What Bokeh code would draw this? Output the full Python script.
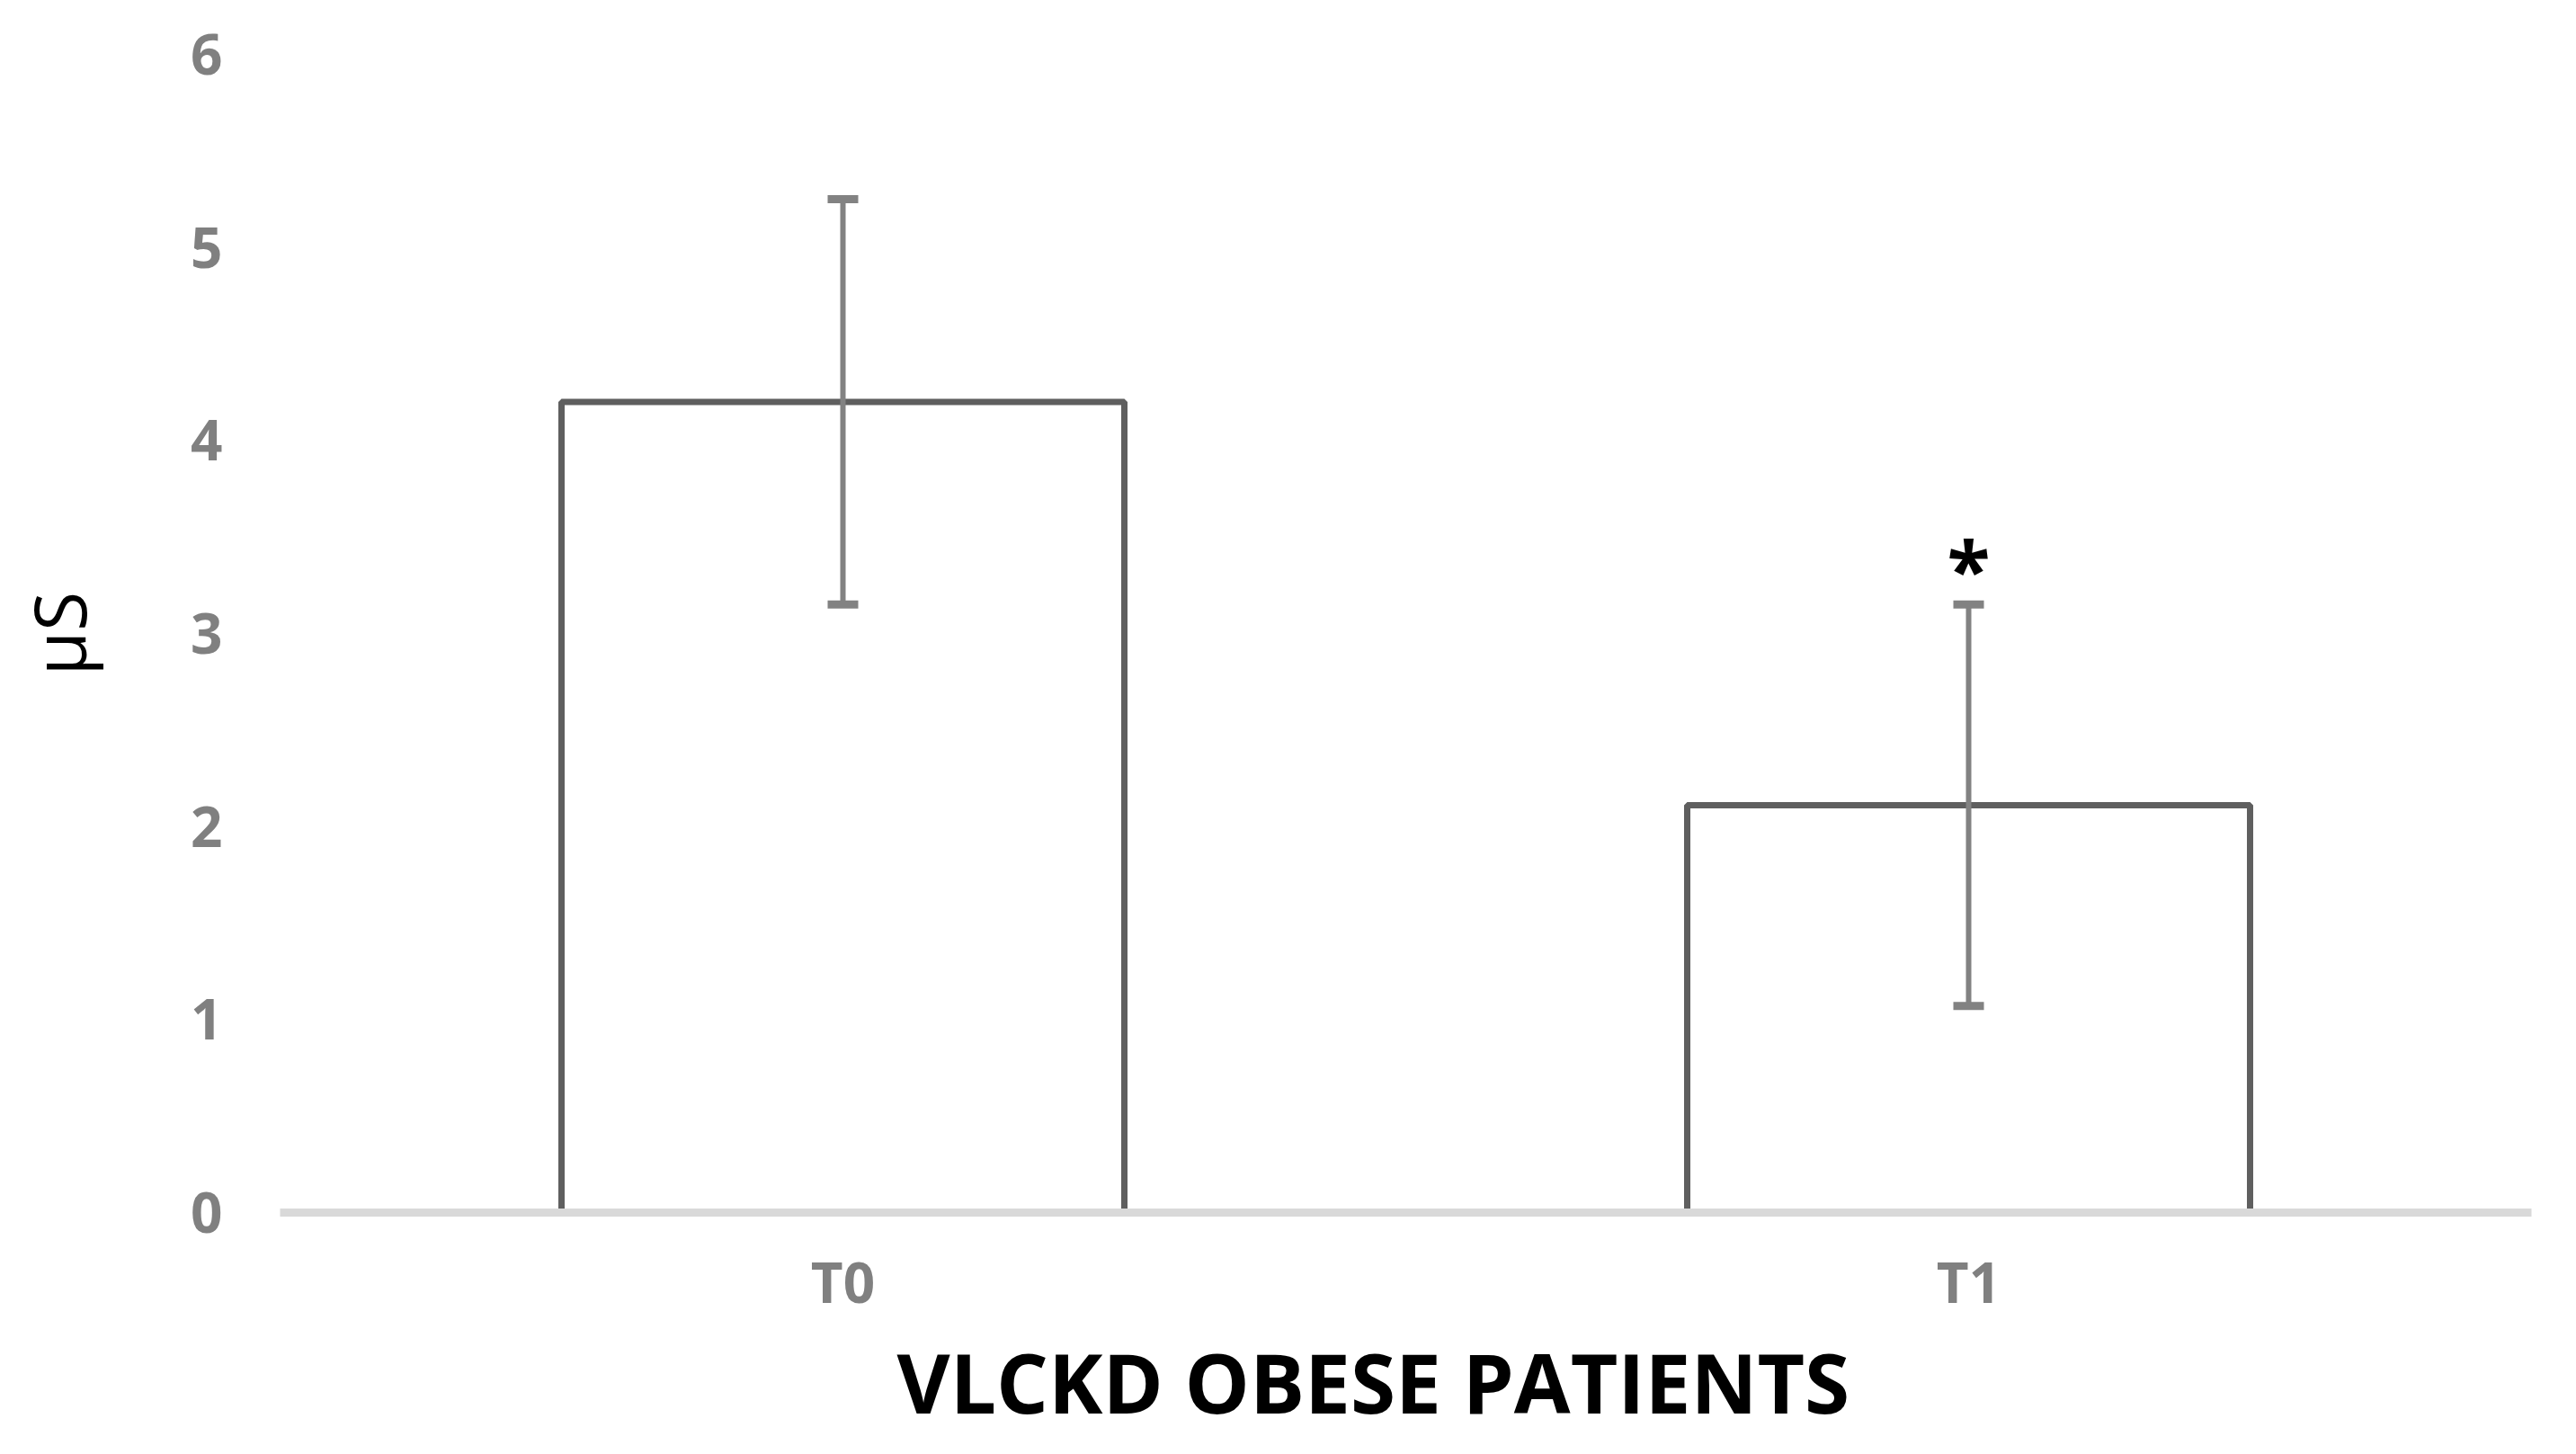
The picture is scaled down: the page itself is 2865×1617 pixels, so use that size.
from bokeh.plotting import figure
from bokeh.models import ColumnDataSource, Range1d, Whisker, TeeHead, FactorRange, FixedTicker, Title
from bokeh.core.properties import value
from bokeh.embed import file_html
from bokeh.resources import INLINE

categories = ["T0", "T1"]
means = [4.20, 2.11]
sds = [1.05, 1.04]
sig_marks = ["", "*"]
y_ticks = [0, 1, 2, 3, 4, 5, 6]
x_title = "VLCKD OBESE PATIENTS"
y_title = "µS"

upper = [m + s for m, s in zip(means, sds)]
lower = [m - s for m, s in zip(means, sds)]

src = ColumnDataSource(dict(cat=categories, mean=means, upper=upper, lower=lower, sig=sig_marks))

FONT = "Open Sans"
W, H = 2849, 1601

p = figure(width=W, height=H, x_range=FactorRange(*categories), y_range=Range1d(0, 6),
           output_backend="svg", toolbar_location=None,
           min_border_left=311, min_border_right=34, min_border_top=60, min_border_bottom=252)
p.background_fill_color = "white"
p.border_fill_color = "white"
p.outline_line_color = None
p.grid.visible = False
p.x_range.range_padding = 0

p.vbar(x="cat", top="mean", width=0.5, source=src, fill_color="white",
       line_color="#5f5f5f", line_width=7)

w = Whisker(base="cat", upper="upper", lower="lower", source=src,
            line_color="#828282", line_width=6, level="annotation",
            upper_head=TeeHead(size=34, line_color="#828282", line_width=9),
            lower_head=TeeHead(size=34, line_color="#828282", line_width=9))
p.add_layout(w)

p.text(x="cat", y="upper", text="sig", source=src, text_align="center", text_baseline="bottom",
       y_offset=20, text_font=value(FONT), text_font_style="bold", text_font_size="88px",
       text_color="black")

# y axis
p.yaxis.ticker = FixedTicker(ticks=y_ticks)
p.yaxis.axis_line_color = None
p.yaxis.major_tick_line_color = None
p.yaxis.minor_tick_line_color = None
p.yaxis.major_tick_out = 0
p.yaxis.major_label_standoff = 64
p.yaxis.major_label_text_font = FONT
p.yaxis.major_label_text_font_style = "bold"
p.yaxis.major_label_text_font_size = "62px"
p.yaxis.major_label_text_color = "#808080"
p.yaxis.axis_label = y_title
p.yaxis.axis_label_text_font = FONT
p.yaxis.axis_label_text_font_style = "normal"
p.yaxis.axis_label_text_font_size = "80px"
p.yaxis.axis_label_text_color = "black"
p.yaxis.axis_label_standoff = 90

# x axis
p.xaxis.axis_line_color = "#d9d9d9"
p.xaxis.axis_line_width = 9
p.xaxis.major_tick_line_color = None
p.xaxis.minor_tick_line_color = None
p.xaxis.major_tick_out = 0
p.xaxis.major_label_standoff = 34
p.xaxis.major_label_text_font = FONT
p.xaxis.major_label_text_font_style = "bold"
p.xaxis.major_label_text_font_size = "62px"
p.xaxis.major_label_text_color = "#808080"

xt = Title(text=x_title, align="left", offset=686, standoff=6,
           text_font=FONT, text_font_style="bold", text_font_size="91px", text_color="black")
p.add_layout(xt, "below")

open("out.html", "w").write(file_html(p, INLINE))
